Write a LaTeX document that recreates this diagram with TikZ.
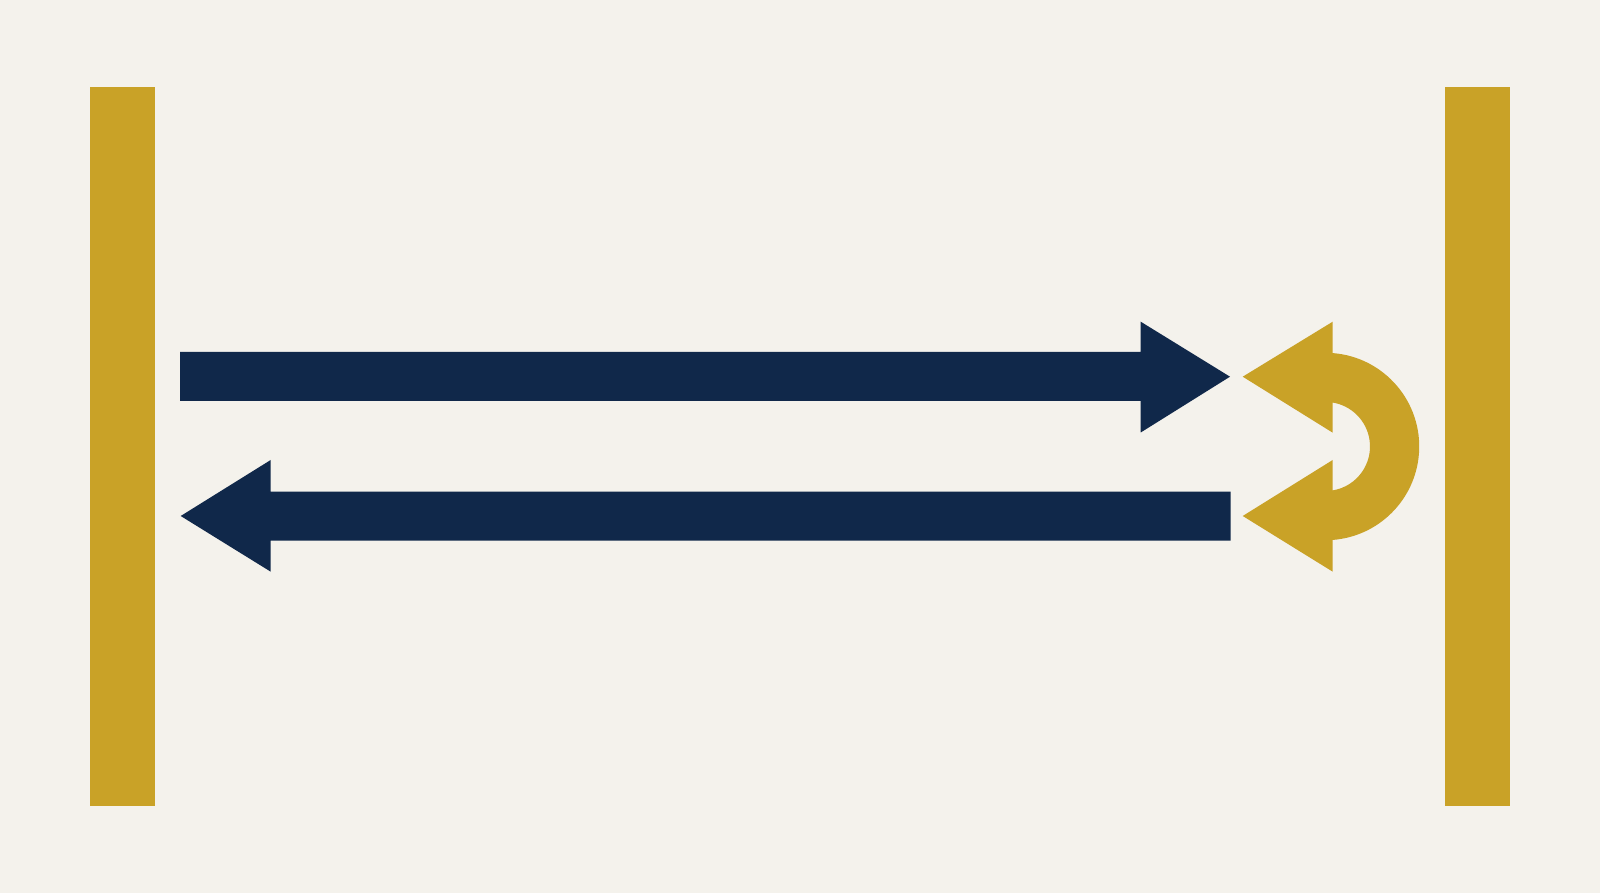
\documentclass[tikz,border=0pt]{standalone}
\usepackage{xcolor}
\definecolor{bgc}{HTML}{F4F2EC}
\definecolor{goldc}{HTML}{C9A227}
\definecolor{navyc}{HTML}{10284A}
\begin{document}
\begin{tikzpicture}[x=1pt,y=1pt,
  goldfill/.style={fill=goldc,draw=none},
  navyfill/.style={fill=navyc,draw=none}]
\fill[bgc] (0,0) rectangle (1600,893);
\useasboundingbox (0,0) rectangle (1600,893);
% side bars
\fill[goldfill] (89.8,87) rectangle (155.1,806.3);
\fill[goldfill] (1444.9,87) rectangle (1510.2,806.3);
% top navy arrow (to the right)
\fill[navyfill] (180,541) -- (1140.7,541) -- (1140.7,571.3) -- (1230,516.3)
  -- (1140.7,460.5) -- (1140.7,492) -- (180,492) -- cycle;
% bottom navy arrow (to the left)
\fill[navyfill] (1230.7,401.3) -- (270.7,401.3) -- (270.7,433) -- (180.7,377)
  -- (270.7,321.3) -- (270.7,352.3) -- (1230.7,352.3) -- cycle;
% gold U-turn
\fill[goldfill] (1242.7,516.3) -- (1332.7,571.3) -- (1332.7,539.9)
  arc[start angle=85.6, end angle=-85.6, radius=93.7]
  -- (1332.7,321.3) -- (1242.7,377) -- (1332.7,433) -- (1332.7,402.6)
  arc[start angle=-80.7, end angle=80.7, radius=44.5]
  -- (1332.7,460.3) -- cycle;
\end{tikzpicture}
\end{document}
